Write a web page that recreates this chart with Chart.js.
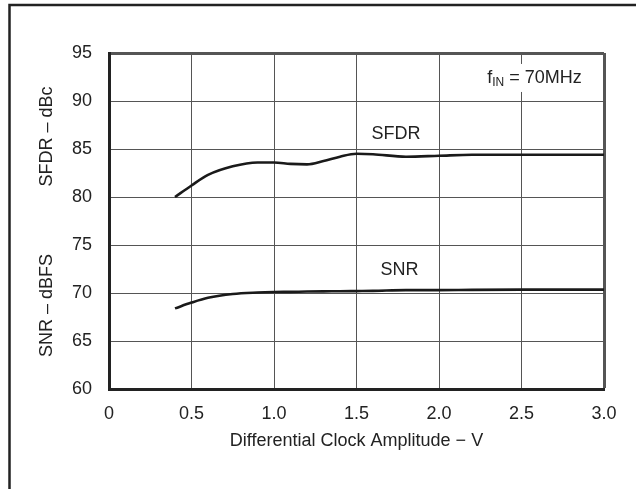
<!DOCTYPE html>
<html><head><meta charset="utf-8">
<script src="https://cdn.jsdelivr.net/npm/chart.js@4/dist/chart.umd.min.js"></script>
<style>html,body{margin:0;padding:0;background:#fff}#wrap{width:636px;height:489px;position:relative}</style>
</head><body><div id="wrap"><canvas id="c" width="636" height="489"></canvas></div>
<script>
// Differential clock amplitude (V)
const amplitude = [0.4, 0.5, 0.6, 0.75, 0.9, 1.0, 1.1, 1.2, 1.3, 1.4, 1.5, 1.6, 1.8, 2.0, 2.2, 2.5, 3.0];
// SFDR (dBc)
const sfdr = [80.0, 81.2, 82.3, 83.2, 83.6, 83.6, 83.45, 83.4, 83.75, 84.2, 84.5, 84.45, 84.2, 84.3, 84.4, 84.4, 84.4];
// SNR (dBFS)
const snr = [68.4, 69.0, 69.5, 69.9, 70.05, 70.1, 70.12, 70.15, 70.17, 70.18, 70.2, 70.22, 70.3, 70.3, 70.33, 70.35, 70.35];
const xTickLabels = ['0', '0.5', '1.0', '1.5', '2.0', '2.5', '3.0'];
const yTickValues = [60, 65, 70, 75, 80, 85, 90, 95];
const seriesLabels = ['SFDR', 'SNR'];
const xTitle = 'Differential Clock Amplitude \u2212 V';
const yTitles = ['SFDR \u2013 dBc', 'SNR \u2013 dBFS'];

const FONT = "'Liberation Sans', Arial, sans-serif";
const TXT = '#222';

const toPts = (ys) => amplitude.map((x, i) => ({x: x, y: ys[i]}));

const decor = {
  id: 'decor',
  beforeDraw(chart) {
    const c = chart.ctx;
    c.save();
    c.fillStyle = '#fff';
    c.fillRect(0, 0, chart.width, chart.height);
    c.strokeStyle = '#222';
    c.lineWidth = 2.5;
    c.beginPath();
    c.moveTo(9.5, chart.height);
    c.lineTo(9.5, 5);
    c.lineTo(chart.width, 5);
    c.stroke();
    c.restore();
  },
  afterDatasetsDraw(chart) {
    const c = chart.ctx;
    const xs = chart.scales.x, ys = chart.scales.y;
    c.save();
    c.fillStyle = TXT;
    c.font = '18px ' + FONT;
    c.textAlign = 'center';
    c.textBaseline = 'middle';
    c.fillText(seriesLabels[0], xs.getPixelForValue(1.74), ys.getPixelForValue(86.6));
    c.fillText(seriesLabels[1], xs.getPixelForValue(1.76), ys.getPixelForValue(72.4));
    // f_IN = 70MHz label
    const right = xs.getPixelForValue(2.865);
    const cy = ys.getPixelForValue(92.4);
    c.font = '18px ' + FONT;
    const wF = c.measureText('f').width;
    const wRest = c.measureText(' = 70MHz').width;
    c.font = '12px ' + FONT;
    const wSub = c.measureText('IN').width;
    const total = wF + wSub + wRest;
    const left = right - total;
    c.fillStyle = '#fff';
    c.fillRect(left - 3, cy - 14, total + 6, 28);
    c.fillStyle = TXT;
    c.textAlign = 'left';
    c.font = '18px ' + FONT;
    c.fillText('f', left, cy);
    c.font = '12px ' + FONT;
    c.fillText('IN', left + wF, cy + 5);
    c.font = '18px ' + FONT;
    c.fillText(' = 70MHz', left + wF + wSub, cy);
    // Y titles
    c.textAlign = 'center';
    c.save();
    c.translate(47, ys.getPixelForValue(86.3));
    c.rotate(-Math.PI / 2);
    c.fillText(yTitles[0], 0, 0);
    c.restore();
    c.save();
    c.translate(47, ys.getPixelForValue(68.7));
    c.rotate(-Math.PI / 2);
    c.fillText(yTitles[1], 0, 0);
    c.restore();
    c.restore();
  }
};

new Chart(document.getElementById('c'), {
  type: 'line',
  data: {
    datasets: [
      {label: seriesLabels[0], data: toPts(sfdr), borderColor: '#1a1a1a', borderWidth: 2.6, pointRadius: 0, cubicInterpolationMode: 'monotone', fill: false},
      {label: seriesLabels[1], data: toPts(snr), borderColor: '#1a1a1a', borderWidth: 2.6, pointRadius: 0, cubicInterpolationMode: 'monotone', fill: false}
    ]
  },
  options: {
    responsive: false,
    animation: false,
    devicePixelRatio: 1,
    layout: {padding: {left: 0, top: 53, right: 32, bottom: 0}},
    plugins: {legend: {display: false}, tooltip: {enabled: false}},
    scales: {
      x: {
        type: 'linear', min: 0, max: 3,
        afterBuildTicks: (s) => { s.ticks = xTickLabels.map(t => ({value: parseFloat(t)})); },
        afterFit: (s) => { s.height = 100; },
        ticks: {
          autoSkip: false, maxRotation: 0, padding: 14, color: TXT,
          font: {family: FONT, size: 18},
          callback: (v, i) => xTickLabels[i]
        },
        grid: {
          drawTicks: false, color: '#555',
          lineWidth: (ctx) => (ctx.tick && ctx.tick.value === 3) ? 3 : 1
        },
        border: {width: 3, color: '#222'},
        title: {display: true, text: xTitle, color: TXT, font: {family: FONT, size: 18}, padding: {top: 0, bottom: 37}}
      },
      y: {
        type: 'linear', min: 60, max: 95,
        afterBuildTicks: (s) => { s.ticks = yTickValues.map(v => ({value: v})); },
        afterFit: (s) => { s.width = 109; },
        ticks: {
          padding: 17, color: TXT,
          font: {family: FONT, size: 18},
          callback: (v) => String(v)
        },
        grid: {
          drawTicks: false, color: '#555',
          lineWidth: (ctx) => (ctx.tick && ctx.tick.value === 95) ? 3 : 1
        },
        border: {width: 3, color: '#222'}
      }
    }
  },
  plugins: [decor]
});
</script>
</body></html>
